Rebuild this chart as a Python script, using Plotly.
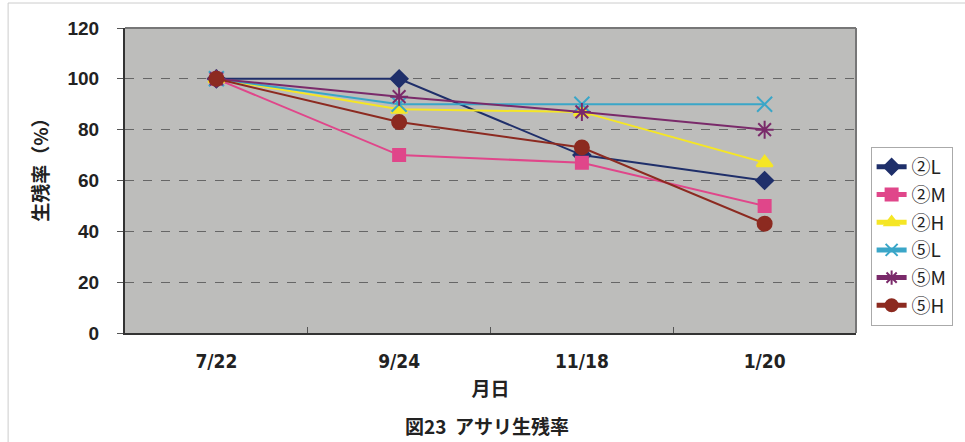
import plotly.graph_objects as go

dates = ["7/22", "9/24", "11/18", "1/20"]
names = ["②L", "②M", "②H", "⑤L", "⑤M", "⑤H"]
s2L = [100, 100, 70, 60]
s2M = [100, 70, 67, 50]
s2H = [100, 88, 87, 67]
s5L = [100, 90, 90, 90]
s5M = [100, 93, 87, 80]
s5H = [100, 83, 73, 43]
series = [s2L, s2M, s2H, s5L, s5M, s5H]
colors = ["#1f2f6a", "#e0468a", "#f5e625", "#3aa6c8", "#7a2a6a", "#8c2a20"]
symbols = ["diamond", "square", "triangle-up", "x-thin-open", "asterisk-open", "circle"]
sizes = [13, 12, 14, 15, 15, 14]

W, H = 965, 442
L, R, T, B = 125, 102, 28, 109
PW, PH = W - L - R, H - T - B

def px(x):
    return (x - L) / PW

def py(y):
    return ((H - B) - y) / PH

fig = go.Figure()
for n, s, c, sym, sz in zip(names, series, colors, symbols, sizes):
    fig.add_trace(go.Scatter(
        x=dates, y=s, name=n, mode="lines+markers",
        line=dict(color=c, width=2),
        marker=dict(symbol=sym, size=sz, color=c, line=dict(color=c, width=2)),
    ))

fig.update_layout(
    width=W, height=H,
    margin=dict(l=L, r=R, t=T, b=B),
    paper_bgcolor="white",
    plot_bgcolor="#bdbdbb",
    font=dict(family="Liberation Sans, Noto Sans CJK JP", size=17, color="#222"),
    showlegend=True,
    legend=dict(
        x=1.02, y=0.61, xanchor="left", yanchor="top",
        bgcolor="white", bordercolor="#aaaaaa", borderwidth=1,
        font=dict(family="Noto Sans CJK JP", size=19, color="#222"),
        tracegroupgap=0, itemsizing="constant",
    ),
    xaxis=dict(
        type="category", range=[-0.5, 3.5],
        showgrid=False, showline=True, linecolor="#333", linewidth=2,
        ticks="inside", ticklen=6, tickcolor="#555", tickson="boundaries",
        tickfont=dict(family="DejaVu Sans Condensed, Liberation Sans", size=19, color="#222", weight="bold"),
        ticklabelstandoff=10,
        title=dict(text="<b>月日</b>", font=dict(family="Noto Sans CJK JP", size=19, color="#222"), standoff=12),
    ),
    yaxis=dict(
        range=[0, 120], dtick=20,
        showgrid=True, gridcolor="#666", griddash="dash", gridwidth=1,
        showline=True, linecolor="#333", linewidth=2,
        ticks="outside", ticklen=6, tickcolor="#555",
        tickfont=dict(family="Liberation Sans", size=19, color="#222", weight="bold"),
        ticklabelstandoff=14,
        zeroline=False,
    ),
    annotations=[
        dict(text="<b>図23  アサリ生残率</b>", xref="paper", yref="paper",
             x=px(490), y=py(425), xanchor="center", yanchor="middle",
             showarrow=False, font=dict(family="Noto Sans CJK JP", size=19, color="#222")),
        dict(text="<b>生残率（%）</b>", xref="paper", yref="paper",
             x=px(38), y=py(165), xanchor="center", yanchor="middle", textangle=-90,
             showarrow=False, font=dict(family="Noto Sans CJK JP", size=19, color="#222")),
    ],
    shapes=[
        dict(type="rect", xref="paper", yref="paper",
             x0=px(7), x1=px(1000), y0=py(500), y1=py(3),
             line=dict(color="#cccccc", width=1), layer="below"),
        dict(type="line", xref="paper", yref="paper", x0=0, x1=1, y0=1, y1=1,
             line=dict(color="#777", width=2)),
        dict(type="line", xref="paper", yref="paper", x0=1, x1=1, y0=0, y1=1,
             line=dict(color="#777", width=2)),
    ],
)

fig.write_html("out.html")
